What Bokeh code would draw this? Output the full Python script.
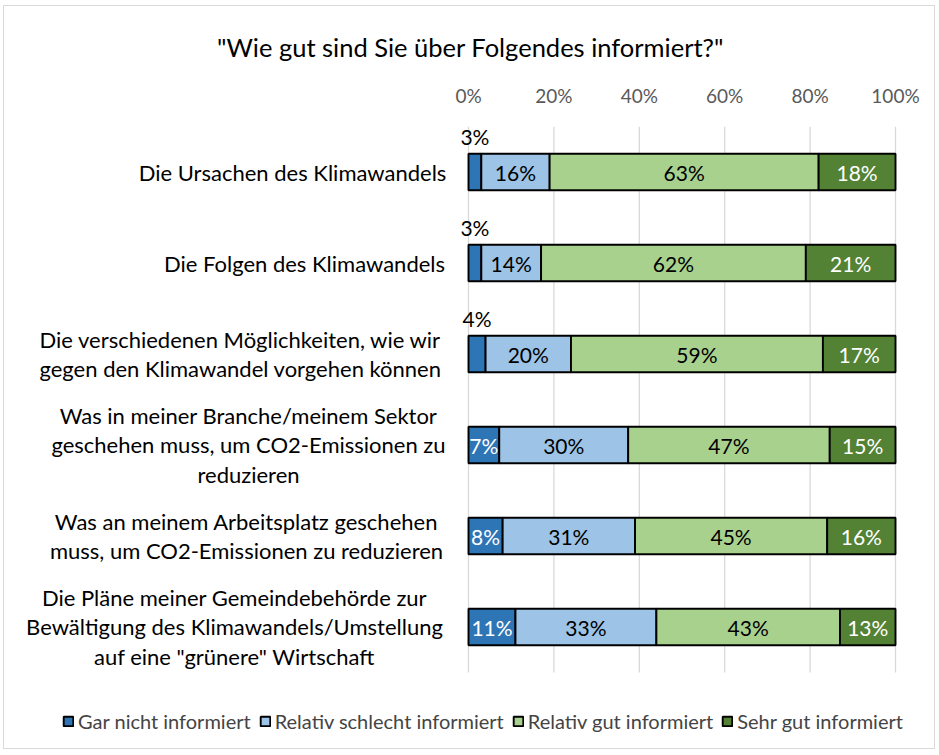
from bokeh.plotting import figure
from bokeh.models import Range1d, FixedTicker, Label, Legend, LegendItem, ColumnDataSource
from bokeh.core.properties import value
from bokeh.embed import file_html
from bokeh.resources import INLINE

title_text = '"Wie gut sind Sie über Folgendes informiert?"'
categories = [
    "Die Ursachen des Klimawandels",
    "Die Folgen des Klimawandels",
    "Die verschiedenen Möglichkeiten, wie wir\ngegen den Klimawandel vorgehen können",
    "Was in meiner Branche/meinem Sektor\ngeschehen muss, um CO2-Emissionen zu\nreduzieren",
    "Was an meinem Arbeitsplatz geschehen\nmuss, um CO2-Emissionen zu reduzieren",
    "Die Pläne meiner Gemeindebehörde zur\nBewältigung des Klimawandels/Umstellung\nauf eine \"grünere\" Wirtschaft",
]
series_names = ["Gar nicht informiert", "Relativ schlecht informiert",
                "Relativ gut informiert", "Sehr gut informiert"]
gar_nicht = [3, 3, 4, 7.2, 8, 11]
relativ_schlecht = [16, 14, 20, 30.2, 31, 33]
relativ_gut = [63, 62, 59, 47.2, 45, 43]
sehr_gut = [18, 21, 17, 15.4, 16, 13]
x_ticks = [0, 20, 40, 60, 80, 100]

colors = ["#2E75B6", "#9DC3E6", "#A9D18E", "#548235"]
label_colors = ["white", "black", "black", "white"]
FONT = "Lato"

# layout (canvas pixels); canvas is offset on the page by (4, 6)
OFFX, OFFY = 4, 6
W, H = 932, 744
X0, X100 = 468.0 - OFFX, 895.0 - OFFX
FRAME_TOP, BARS_BOTTOM = 126.0 - OFFY, 672.0 - OFFY
ppu_x = (X100 - X0) / 100.0
ppu_y = (BARS_BOTTOM - FRAME_TOP) / 6.0
x_start = -X0 / ppu_x
x_end = (W - X0) / ppu_x
y_bottom = 5.5 + (H - BARS_BOTTOM) / ppu_y

p = figure(width=W, height=H, output_backend="svg", toolbar_location=None,
           x_range=Range1d(x_start, x_end), y_range=Range1d(y_bottom, -0.5),
           x_axis_location="above", y_axis_location=None,
           min_border_left=0, min_border_right=0,
           min_border_top=int(FRAME_TOP), min_border_bottom=0,
           title=title_text)
p.styles = {"border": "1px solid #D9D9D9", "margin-left": "3px", "margin-top": "5px"}
p.outline_line_color = None
p.background_fill_color = "white"
p.border_fill_color = "white"
p.grid.visible = False

p.title.align = "center"
p.title.text_font = FONT
p.title.text_font_size = "25.5px"
p.title.text_font_style = "normal"
p.title.text_color = "black"
try:
    p.title.standoff = 38
except Exception:
    pass

xa = p.xaxis[0]
xa.ticker = FixedTicker(ticks=x_ticks)
xa.major_label_overrides = {t: f"{t}%" for t in x_ticks}
xa.axis_line_color = None
xa.major_tick_line_color = None
xa.minor_tick_line_color = None
xa.major_tick_out = 0
xa.major_tick_in = 0
xa.major_label_standoff = 20
xa.major_label_text_font = FONT
xa.major_label_text_font_size = "19px"
xa.major_label_text_color = "#595959"

# vertical gridlines over the bar area only
p.segment(x0=x_ticks, x1=x_ticks, y0=[-0.5] * len(x_ticks), y1=[5.5] * len(x_ticks),
          line_color="#D9D9D9", line_width=1.3)

series = [gar_nicht, relativ_schlecht, relativ_gut, sehr_gut]
ys = list(range(len(categories)))
cum = [0.0] * len(categories)
renderers = []
lx, ly, lt, lc = [], [], [], []
for k, vals in enumerate(series):
    left = cum[:]
    right = [a + b for a, b in zip(cum, vals)]
    cum = right
    src = ColumnDataSource(dict(y=ys, left=left, right=right))
    r = p.hbar(y="y", left="left", right="right", height=0.4, source=src,
               fill_color=colors[k], line_color="black", line_width=1.9)
    renderers.append(r)
    for i, v in enumerate(vals):
        lx.append((left[i] + right[i]) / 2)
        if v < 5:
            ly.append(ys[i] - 0.385)
            lc.append("black")
        else:
            ly.append(ys[i])
            lc.append(label_colors[k])
        lt.append(f"{round(v)}%")

lsrc = ColumnDataSource(dict(x=lx, y=ly, text=lt, color=lc))
p.text(x="x", y="y", text="text", source=lsrc, text_color="color",
       text_align="center", text_baseline="middle",
       text_font=value(FONT), text_font_size="21px")

# category labels (centred lines, block placed left of the plot)
centers = [292, 304, 240, 248, 246, 234]
for i, cat in enumerate(categories):
    p.add_layout(Label(x=centers[i] - OFFX, y=ys[i], x_units="screen", y_units="data",
                       text=cat, text_align="center", text_baseline="middle",
                       text_font=FONT, text_font_size="22px",
                       text_color="black", text_line_height=1.1))

legend = Legend(items=[LegendItem(label=n, renderers=[r]) for n, r in zip(series_names, renderers)],
                orientation="horizontal", location=(62 - OFFX, 17),
                label_text_font=FONT, label_text_font_size="20px",
                glyph_width=12, glyph_height=12, label_standoff=4, spacing=8,
                padding=0, margin=0, border_line_color=None, background_fill_alpha=0)
p.add_layout(legend, "center")

open("out.html", "w").write(file_html(p, INLINE))
